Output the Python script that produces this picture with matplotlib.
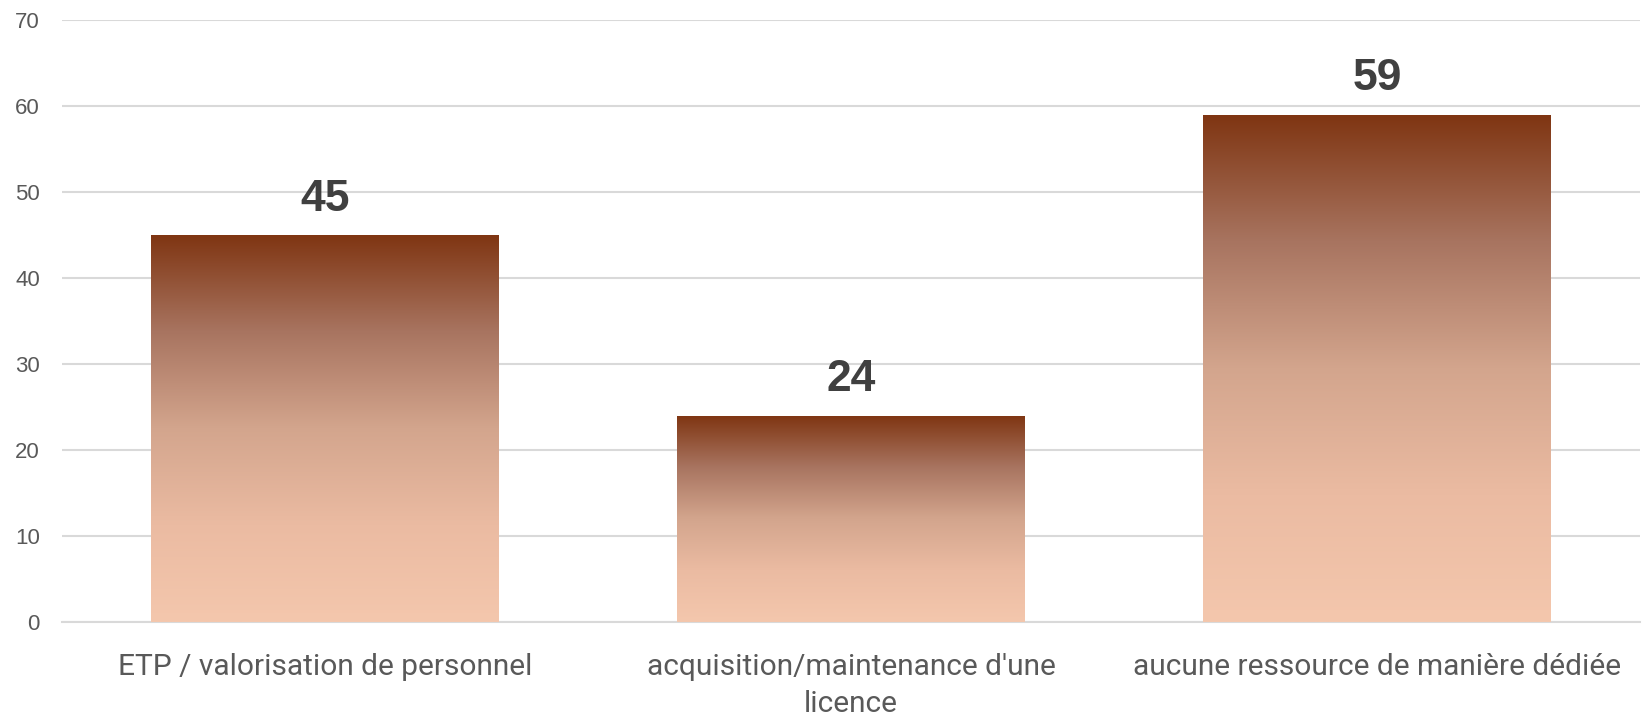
import numpy as np
import matplotlib.pyplot as plt
from matplotlib.colors import LinearSegmentedColormap

categories = ["ETP / valorisation de personnel",
              "acquisition/maintenance d'une\nlicence",
              "aucune ressource de manière dédiée"]
values = [45, 24, 59]
yticks = [0, 10, 20, 30, 40, 50, 60, 70]

# light at the bottom, dark brown at the top
cmap = LinearSegmentedColormap.from_list(
    "brown", [(0.0, "#F4C7AD"), (0.25, "#EBBBA2"), (0.5, "#D3A58D"),
              (0.75, "#A87460"), (1.0, "#7F3512")])

fig = plt.figure(figsize=(16.45, 7.15), dpi=100)
ax = fig.add_axes([0.0377, 0.130, 0.9593, 0.842])

x = np.arange(len(values))
bars = ax.bar(x, values, width=0.66, color="none", zorder=3)
grad = np.linspace(0, 1, 256).reshape(-1, 1)
for b in bars:
    x0, w, h = b.get_x(), b.get_width(), b.get_height()
    im = ax.imshow(grad, cmap=cmap, origin="lower", aspect="auto",
                   extent=[x0, x0 + w, 0, h], zorder=3)
    im.set_clip_path(b)
    ax.text(x0 + w / 2, h + 1.8, str(int(h)), ha="center", va="bottom",
            fontsize=32, fontweight="bold", color="#404040",
            family="Liberation Sans")

ax.set_xlim(-0.5, len(values) - 0.5)
ax.set_ylim(0, 70)
ax.set_yticks(yticks)
ax.yaxis.grid(True, color="#D9D9D9", linewidth=1.5, zorder=0)
ax.set_axisbelow(True)
for s in ["top", "right", "left"]:
    ax.spines[s].set_visible(False)
ax.spines["bottom"].set_color("#D9D9D9")
ax.spines["bottom"].set_linewidth(1.5)
ax.tick_params(length=0)
ax.tick_params(axis="y", pad=16, labelcolor="#595959", labelsize=16)
ax.set_yticklabels([str(t) for t in yticks], family="Liberation Sans")
ax.set_xticks(x)
ax.set_xticklabels(categories, fontsize=21.5, color="#595959",
                   family="Roboto", linespacing=1.43)
ax.tick_params(axis="x", pad=22)

fig.savefig("out.png", dpi=100)
